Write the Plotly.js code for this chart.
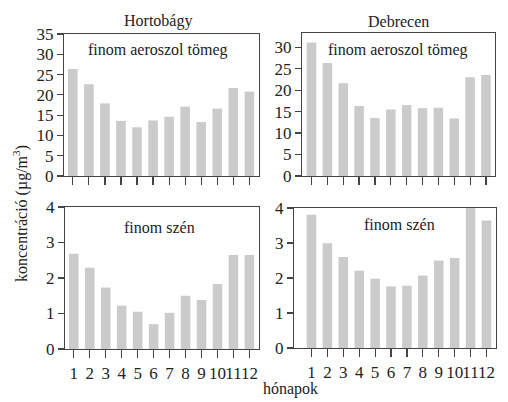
<!DOCTYPE html>
<html><head><meta charset="utf-8">
<script src="https://cdn.plot.ly/plotly-3.0.1.min.js"></script>
<style>html,body{margin:0;padding:0;background:#fff}#c{width:508px;height:402px}</style>
</head><body><div id="c"></div>
<script>
const months = [1,2,3,4,5,6,7,8,9,10,11,12];
const monthLabels = ['1','2','3','4','5','6','7','8','9','10','11','12'];
const hortobagyMass = [26.4,22.6,17.9,13.6,12.0,13.7,14.6,17.1,13.3,16.6,21.7,20.8];
const debrecenMass = [31.1,26.3,21.6,16.3,13.5,15.5,16.5,15.8,15.9,13.4,23.0,23.5];
const hortobagyCarbon = [2.68,2.29,1.73,1.22,1.05,0.70,1.02,1.50,1.38,1.83,2.65,2.65];
const debrecenCarbon = [3.81,2.99,2.60,2.21,1.98,1.76,1.78,2.07,2.50,2.57,4.05,3.64];
const siteNames = ['Hortobágy','Debrecen'];
const panelLabels = ['finom aeroszol tömeg','finom szén'];
const yTitle = 'koncentráció (µg/m<sup>3</sup>)';
const xTitle = 'hónapok';

const F = 'Times New Roman';
const barMarker = {color:'#d6d6d6', line:{width:0},
  pattern:{shape:'.', fgcolor:'#b4b4b4', bgcolor:'#dedede', size:2, solidity:0.5}};
function tr(y, xa, ya){
  return {type:'bar', x:months, y:y, xaxis:xa, yaxis:ya, width:0.6, marker:barMarker, hoverinfo:'none'};
}
const data = [
  tr(hortobagyMass,'x','y'),
  tr(debrecenMass,'x2','y2'),
  tr(hortobagyCarbon,'x3','y3'),
  tr(debrecenCarbon,'x4','y4')
];
const ax = {showline:true, mirror:true, linecolor:'#444', linewidth:1.2, ticks:'outside',
  tickcolor:'#444', ticklen:6, tickwidth:1.2, showgrid:false, zeroline:false,
  tickfont:{family:F, size:17, color:'#222'}};
function xax(dom, rng, labels, anchor){
  return Object.assign({}, ax, {domain:dom, range:rng, tickvals:months, ticktext:monthLabels,
    showticklabels:labels, anchor:anchor, ticklen:8, tickangle:0, tickfont:{family:F, size:17, color:'#222'}});
}
function yax(dom, rng, dt, anchor){
  return Object.assign({}, ax, {domain:dom, range:rng, dtick:dt, tick0:0, anchor:anchor});
}
const topD = [1-176/402, 1-34/402], botD = [1-349/402, 1-207/402];
const layout = {
  width:508, height:402, margin:{l:0,r:0,t:0,b:0}, showlegend:false,
  paper_bgcolor:'#fff', plot_bgcolor:'#fff', bargap:0.4,
  font:{family:F},
  xaxis: xax([64/508,259/508],[0.45,12.6],false,'y'),
  yaxis: yax(topD,[0,35],5,'x'),
  xaxis2: xax([302/508,495/508],[0.4,12.57],false,'y2'),
  yaxis2: yax([1-176/402, 1-33/402],[0,33.3],5,'x2'),
  xaxis3: xax([65/508,259/508],[0.45,12.6],true,'y3'),
  yaxis3: yax(botD,[0,4],1,'x3'),
  xaxis4: xax([294/508,496/508],[-0.1,12.6],true,'y4'),
  yaxis4: yax([1-348/402,1-208/402],[0,4],1,'x4'),
  annotations:[
    {text:siteNames[0], x:158/508, y:1-21/402},
    {text:siteNames[1], x:398/508, y:1-21/402},
    {text:panelLabels[0], x:158/508, y:1-50/402},
    {text:panelLabels[0], x:398/508, y:1-50/402},
    {text:panelLabels[1], x:159/508, y:1-227/402},
    {text:panelLabels[1], x:399/508, y:1-225/402},
    {text:yTitle, x:20/508, y:1-214/402, textangle:-90},
    {text:xTitle, x:290/508, y:1-389/402}
  ].map(a=>Object.assign({xref:'paper', yref:'paper', showarrow:false, xanchor:'center', yanchor:'middle',
     font:{family:F, size:16, color:'#222'}}, a))
};
Plotly.newPlot('c', data, layout, {staticPlot:true, displayModeBar:false});
</script></body></html>
